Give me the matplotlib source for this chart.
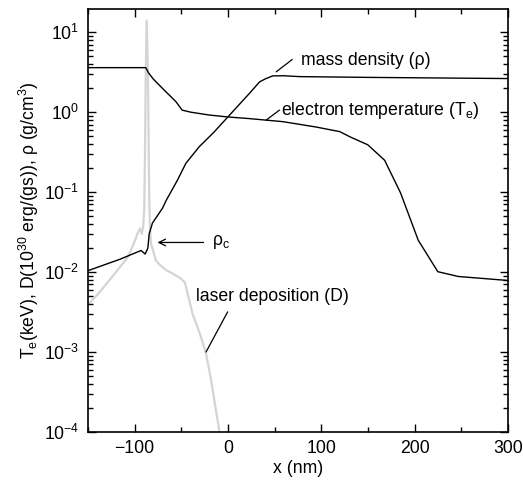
import matplotlib
matplotlib.use("Agg")
import matplotlib.pyplot as plt
from matplotlib.ticker import MultipleLocator, LogLocator, NullFormatter

plt.rcParams['font.family'] = ['Liberation Sans', 'DejaVu Sans']
plt.rcParams['mathtext.fontset'] = 'custom'
plt.rcParams['mathtext.rm'] = 'Liberation Sans'
plt.rcParams['mathtext.default'] = 'regular'
plt.rcParams['axes.unicode_minus'] = True

# electron temperature (keV)
x_te = [-150, -88, -85, -80, -70, -62, -55.6, -49, -40, -20, 0, 23, 59, 95, 120, 131,
        150, 168, 185, 204, 225, 247, 297, 300]
te = [3.6, 3.6, 3.1, 2.6, 1.98, 1.6, 1.35, 1.06, 1.0, 0.92, 0.87, 0.83, 0.76, 0.65, 0.57,
      0.49, 0.39, 0.25, 0.098, 0.025, 0.0101, 0.0088, 0.0079, 0.0078]

# mass density (g/cm^3)
x_rho = [-150, -116, -93, -88.6, -85.7, -84.3, -80.8, -70, -66, -54, -45, -30.6, -15, 0,
         23, 34, 40, 48, 60, 77, 150, 300]
rho = [0.0104, 0.0144, 0.0186, 0.0168, 0.020, 0.030, 0.041, 0.063, 0.079, 0.141, 0.229,
       0.37, 0.56, 0.87, 1.71, 2.39, 2.6, 2.84, 2.85, 2.78, 2.72, 2.63]

# laser deposition (10^30 erg/(g s))
x_d = [-150, -138, -127, -117, -107, -100, -97, -94.3, -92.2, -90.8, -89.6, -88.8, -88.0,
       -87.0, -85.6, -84.8, -84.2, -83.4, -82.5, -77.1, -73.6, -66.4, -59.3, -50.3, -46,
       -37.8, -30, -23.4, -18, -9]
dep = [0.0039, 0.0055, 0.0079, 0.011, 0.0155, 0.024, 0.030, 0.035, 0.030, 0.037, 0.06, 0.3,
       3.0, 14.0, 3.0, 0.3, 0.08, 0.035, 0.023, 0.014, 0.0125, 0.0106, 0.0096, 0.0083,
       0.0074, 0.0030, 0.0017, 0.00096, 0.00045, 0.0001]

FS = 12.7
fig = plt.figure(figsize=(5.23, 4.88), dpi=100)
ax = fig.add_axes([0.168, 0.1148, 0.803, 0.8668])

ax.plot(x_d, dep, color='#d4d4d4', lw=1.6, zorder=1)
ax.plot(x_te, te, color='black', lw=1.0, zorder=2)
ax.plot(x_rho, rho, color='black', lw=1.0, zorder=2)

ax.set_yscale('log')
ax.set_xlim(-150, 300)
ax.set_ylim(1e-4, 19.5)

ax.xaxis.set_major_locator(MultipleLocator(100))
ax.xaxis.set_minor_locator(MultipleLocator(50))
ax.yaxis.set_major_locator(LogLocator(base=10, numticks=10))
ax.yaxis.set_minor_locator(LogLocator(base=10, subs=range(2, 10), numticks=20))
ax.yaxis.set_minor_formatter(NullFormatter())
ax.tick_params(which='both', direction='in', top=True, right=True, labelsize=FS)
ax.tick_params(which='major', length=6, width=1.0, pad=6)
ax.tick_params(which='minor', length=3.5, width=1.0)
for s in ax.spines.values():
    s.set_linewidth(1.2)

ax.set_xlabel('x (nm)', fontsize=FS, labelpad=2)
ax.set_ylabel(r'T$_e$(keV), D(10$^{30}$ erg/(gs)), ρ (g/cm$^3$)', fontsize=FS, labelpad=2)

lk = dict(arrowstyle='-', color='black', lw=0.9, shrinkA=0, shrinkB=0)
ax.annotate('', xy=(51.8, 3.19), xytext=(69, 4.56), arrowprops=lk)
ax.text(78.6, 4.47, 'mass density (ρ)', fontsize=FS, va='center', ha='left')

ax.annotate('', xy=(41, 0.794), xytext=(55.3, 1.06), arrowprops=lk)
ax.text(57.1, 1.06, r'electron temperature (T$_e$)', fontsize=FS, va='center', ha='left')

ax.annotate('', xy=(-23.4, 0.001), xytext=(-0.2, 0.00318), arrowprops=lk)
ax.text(-34.2, 0.0049, 'laser deposition (D)', fontsize=FS, va='center', ha='left')

ax.annotate('', xy=(-75.4, 10**-1.63), xytext=(-26, 10**-1.63),
            arrowprops=dict(arrowstyle='->', color='black', lw=0.9,
                            shrinkA=0, shrinkB=0, mutation_scale=12))
ax.text(-17, 10**-1.63, r'ρ$_c$', fontsize=FS, va='center', ha='left')

fig.savefig('out.png', dpi=100)
